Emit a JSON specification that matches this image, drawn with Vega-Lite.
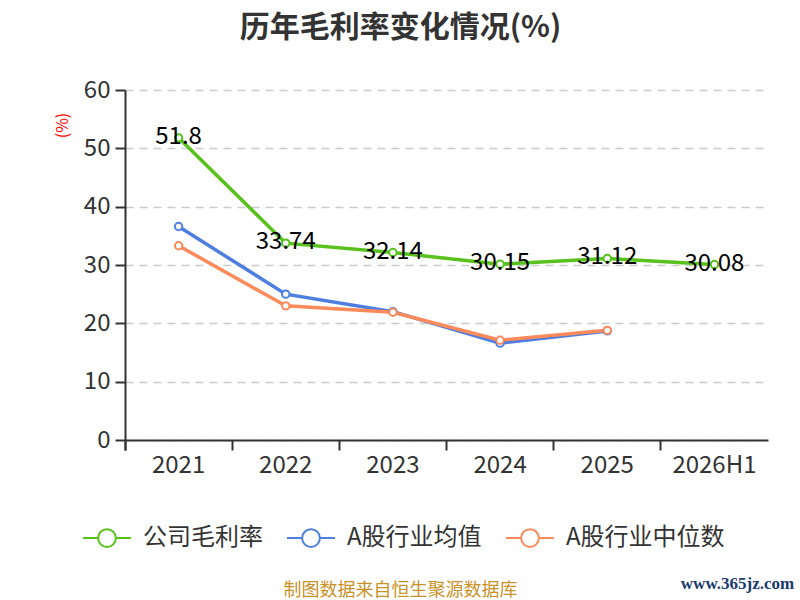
{
  "$schema": "https://vega.github.io/schema/vega-lite/v6.json",
  "width": 643,
  "height": 350,
  "autosize": {"type": "none"},
  "padding": {"left": 125, "top": 90, "right": 32, "bottom": 160},
  "background": "white",
  "config": {
    "font": "Noto Sans CJK SC",
    "view": {"stroke": null}
  },
  "title": {
    "text": "历年毛利率变化情况(%)",
    "fontSize": 30,
    "fontWeight": "bold",
    "color": "#333333",
    "anchor": "middle",
    "frame": "group",
    "dx": -46,
    "offset": 35
  },
  "datasets": {
    "series": [
      {"year": "2021", "series": "A股行业均值", "value": 36.6},
      {"year": "2022", "series": "A股行业均值", "value": 25.0},
      {"year": "2023", "series": "A股行业均值", "value": 22.0},
      {"year": "2024", "series": "A股行业均值", "value": 16.6},
      {"year": "2025", "series": "A股行业均值", "value": 18.7},
      {"year": "2021", "series": "A股行业中位数", "value": 33.3},
      {"year": "2022", "series": "A股行业中位数", "value": 23.0},
      {"year": "2023", "series": "A股行业中位数", "value": 21.9},
      {"year": "2024", "series": "A股行业中位数", "value": 17.1},
      {"year": "2025", "series": "A股行业中位数", "value": 18.8},
      {"year": "2021", "series": "公司毛利率", "value": 51.8},
      {"year": "2022", "series": "公司毛利率", "value": 33.74},
      {"year": "2023", "series": "公司毛利率", "value": 32.14},
      {"year": "2024", "series": "公司毛利率", "value": 30.15},
      {"year": "2025", "series": "公司毛利率", "value": 31.12},
      {"year": "2026H1", "series": "公司毛利率", "value": 30.08}
    ]
  },
  "data": {"name": "series"},
  "encoding": {
    "x": {
      "field": "year",
      "type": "nominal",
      "sort": null,
      "scale": {"type": "band", "paddingInner": 0, "paddingOuter": 0, "domain": ["2021", "2022", "2023", "2024", "2025", "2026H1"]},
      "axis": {
        "title": "制图数据来自恒生聚源数据库",
        "titleX": 275,
        "titleY": 150,
        "titleAlign": "center",
        "titleBaseline": "middle",
        "titleFontSize": 18,
        "titleFontWeight": "normal",
        "titleColor": "#c8922a",
        "labelAngle": 0,
        "labelFontSize": 24,
        "labelColor": "#333333",
        "labelPadding": 3,
        "domainColor": "#333333",
        "domainWidth": 2,
        "tickColor": "#333333",
        "tickWidth": 2,
        "tickSize": 10,
        "bandPosition": 0,
        "tickExtra": true,
        "grid": false
      }
    }
  },
  "layer": [
    {
      "mark": {
        "type": "line",
        "strokeWidth": 3.5,
        "point": {"filled": false, "fill": "white", "size": 55, "strokeWidth": 2}
      },
      "encoding": {
        "y": {
          "field": "value",
          "type": "quantitative",
          "scale": {"domain": [0, 60]},
          "axis": {
            "values": [0, 10, 20, 30, 40, 50, 60],
            "title": "(%)",
            "titleColor": "red",
            "titleFontSize": 16,
            "titleFontWeight": "normal",
            "titleX": -63,
            "titleY": 35,
            "titleAlign": "center",
            "titleBaseline": "middle",
            "labelFontSize": 24,
            "labelColor": "#333333",
            "labelPadding": 5,
            "domainColor": "#333333",
            "domainWidth": 2,
            "tickColor": "#333333",
            "tickWidth": 2,
            "tickSize": 10,
            "grid": true,
            "gridColor": "#cccccc",
            "gridDash": [8, 6],
            "gridWidth": 1.5
          }
        },
        "color": {
          "field": "series",
          "type": "nominal",
          "scale": {
            "domain": ["公司毛利率", "A股行业均值", "A股行业中位数"],
            "range": ["#58c11c", "#4e7fe0", "#fc8a5a"]
          },
          "legend": {
            "title": null,
            "orient": "none",
            "direction": "horizontal",
            "legendX": -43,
            "legendY": 423,
            "padding": 0,
            "symbolType": "M-1,0L-0.37,0M0.37,0L1,0M-0.37,0A0.37,0.37 0 1,1 0.37,0A0.37,0.37 0 1,1 -0.37,0Z",
            "symbolSize": 2304,
            "symbolStrokeWidth": 2,
            "symbolFillColor": "white",
            "labelFontSize": 24,
            "labelColor": "#333333",
            "labelOffset": 11,
            "columnPadding": 20
          }
        }
      }
    },
    {
      "transform": [{"filter": "datum.series === '公司毛利率'"}],
      "mark": {"type": "text", "fontSize": 24, "color": "black", "baseline": "middle", "dy": -1},
      "encoding": {
        "y": {
          "field": "value",
          "type": "quantitative",
          "scale": {"domain": [0, 60]},
          "axis": {
            "orient": "right",
            "title": "www.365jz.com",
            "titleAngle": 0,
            "titleX": -31,
            "titleY": 493,
            "titleAlign": "center",
            "titleBaseline": "middle",
            "titleFont": "Liberation Serif",
            "titleFontSize": 17,
            "titleFontWeight": "bold",
            "titleColor": "#1a3a6e",
            "labels": false,
            "ticks": false,
            "domain": false,
            "grid": false
          }
        },
        "text": {"field": "value", "type": "quantitative"}
      }
    }
  ],
  "resolve": {"scale": {"y": "independent"}}
}
